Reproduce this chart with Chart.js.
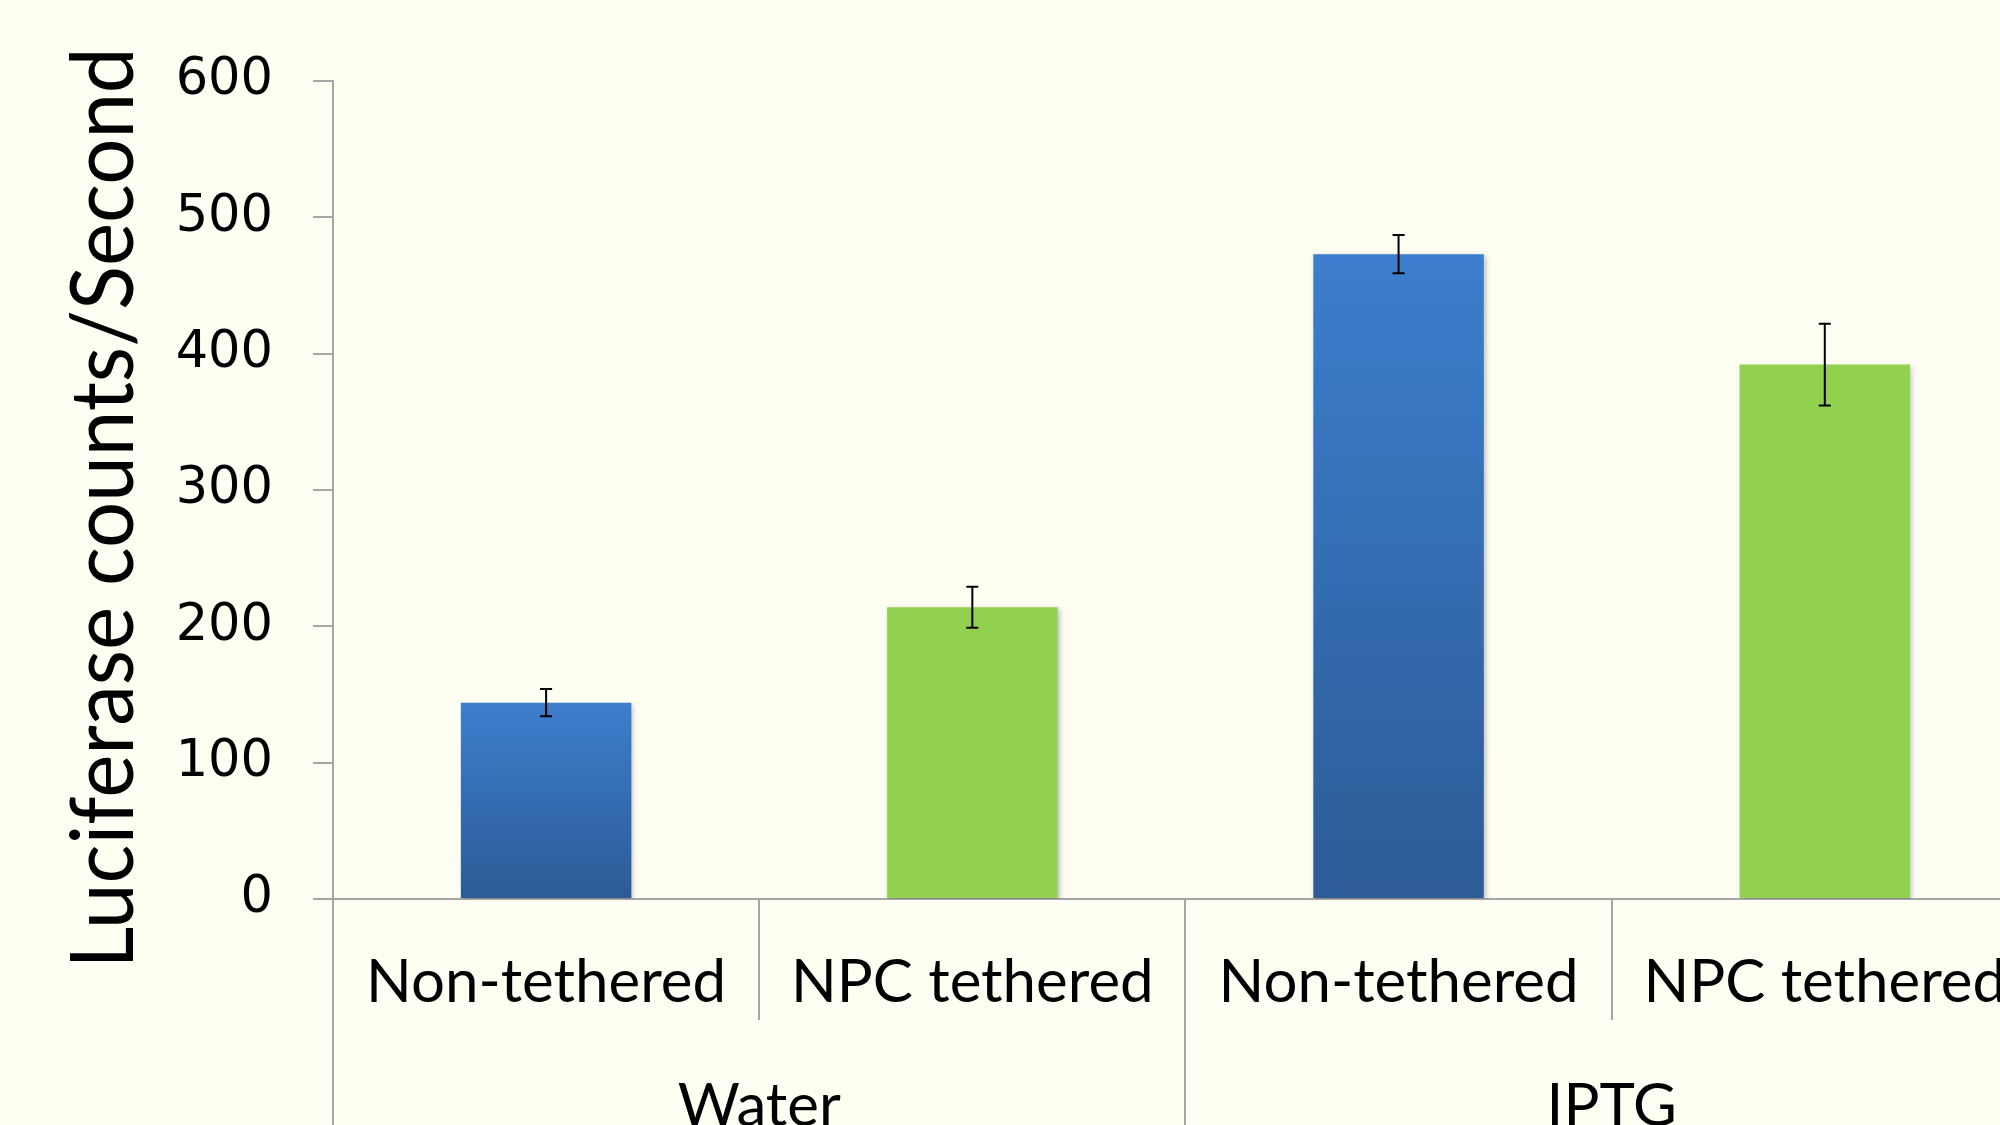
<!DOCTYPE html>
<html>
<head>
<meta charset="utf-8">
<script src="https://cdn.jsdelivr.net/npm/chart.js@4.4.1/dist/chart.umd.min.js"></script>
<style>
  html, body { margin: 0; padding: 0; background: #fefef3; overflow: hidden; }
  #grafico { position: absolute; left: 0; top: 0; }
</style>
</head>
<body>
<canvas id="grafico" width="2047" height="1125"></canvas>
<script>
// datos
const categorias = ['Non-tethered', 'NPC tethered', 'Non-tethered', 'NPC tethered'];
const grupos = ['Water', 'IPTG'];
const valores = [144, 214, 473, 392];
const errores = [10, 15, 14, 30];
const tipos = ['azul', 'verde', 'azul', 'verde'];
const ticksY = [0, 100, 200, 300, 400, 500, 600];

const GRIS = '#a6a6a6';

function colorBarra(context) {
    const i = context.dataIndex;
    if (tipos[i] === 'verde') return '#92d050';
    const chart = context.chart;
    const y = chart.scales && chart.scales.y;
    if (!chart.chartArea || !y) return '#3a74c0';
    const top = y.getPixelForValue(valores[i]);
    const bottom = y.getPixelForValue(0);
    const g = chart.ctx.createLinearGradient(0, top, 0, bottom);
    g.addColorStop(0, '#3c7ecd');
    g.addColorStop(1, '#2c5b96');
    return g;
}

const sombraBarras = {
    id: 'sombraBarras',
    beforeDatasetsDraw(chart) {
        const ctx = chart.ctx;
        ctx.save();
        ctx.shadowColor = 'rgba(0,0,0,0.25)';
        ctx.shadowBlur = 5;
        ctx.shadowOffsetX = 2;
        ctx.shadowOffsetY = 2;
    },
    afterDatasetsDraw(chart) {
        chart.ctx.restore();
    }
};

const barrasError = {
    id: 'barrasError',
    afterDatasetsDraw(chart) {
        const ctx = chart.ctx;
        const y = chart.scales.y;
        const meta = chart.getDatasetMeta(0);
        ctx.save();
        ctx.strokeStyle = '#000';
        ctx.lineWidth = 2;
        meta.data.forEach((barra, i) => {
            const x = barra.x;
            const alto = y.getPixelForValue(valores[i] + errores[i]);
            const bajo = y.getPixelForValue(valores[i] - errores[i]);
            ctx.beginPath();
            ctx.moveTo(x, alto); ctx.lineTo(x, bajo);
            ctx.moveTo(x - 6, alto); ctx.lineTo(x + 6, alto);
            ctx.moveTo(x - 6, bajo); ctx.lineTo(x + 6, bajo);
            ctx.stroke();
        });
        ctx.restore();
    }
};

const ejeAgrupado = {
    id: 'ejeAgrupado',
    afterDraw(chart) {
        const ctx = chart.ctx;
        const x = chart.scales.x;
        const base = chart.chartArea.bottom;
        const n = categorias.length;
        const paso = x.getPixelForValue(1) - x.getPixelForValue(0);
        ctx.save();
        ctx.strokeStyle = GRIS;
        ctx.lineWidth = 2;
        for (let i = 0; i <= n; i++) {
            const px = Math.round(x.getPixelForValue(i) - paso / 2);
            const fin = (i % 2 === 0) ? chart.height : base + 121;
            ctx.beginPath();
            ctx.moveTo(px, base);
            ctx.lineTo(px, fin);
            ctx.stroke();
        }
        ctx.fillStyle = '#000';
        ctx.font = '60px Lato';
        ctx.textAlign = 'center';
        ctx.textBaseline = 'alphabetic';
        grupos.forEach((g, k) => {
            const cx = (x.getPixelForValue(k * 2) + x.getPixelForValue(k * 2 + 1)) / 2;
            ctx.fillText(g, cx, 1126);
        });
        // titulo del eje y, estrechado para parecerse al original
        const titulo = 'Luciferase counts/Second';
        ctx.font = '88px Lato';
        const ancho = ctx.measureText(titulo).width;
        ctx.translate(133, 508);
        ctx.rotate(-Math.PI / 2);
        ctx.scale(921 / ancho, 1);
        ctx.fillText(titulo, 0, 0);
        ctx.restore();
    }
};

new Chart(document.getElementById('grafico'), {
    type: 'bar',
    data: {
        labels: categorias,
        datasets: [{
            data: valores,
            backgroundColor: colorBarra,
            borderWidth: 0,
            barPercentage: 0.4,
            categoryPercentage: 1
        }]
    },
    options: {
        responsive: false,
        animation: false,
        layout: { padding: { top: 81, right: 7, left: 0, bottom: 0 } },
        plugins: { legend: { display: false }, tooltip: { enabled: false } },
        scales: {
            x: {
                grid: { display: false },
                border: { display: true, color: GRIS, width: 2 },
                ticks: {
                    color: '#000',
                    font: { family: 'Lato', size: 60 },
                    padding: 40,
                    maxRotation: 0,
                    autoSkip: false
                },
                afterFit: s => { s.height = 226; }
            },
            y: {
                min: 0,
                max: 600,
                afterBuildTicks: s => { s.ticks = ticksY.map(v => ({ value: v })); },
                grid: { drawOnChartArea: false, color: GRIS, lineWidth: 2, tickLength: 20 },
                border: { display: true, color: GRIS, width: 2 },
                ticks: {
                    color: '#000',
                    font: { family: 'DejaVu Sans', size: 51 },
                    padding: 40
                },
                afterFit: s => { s.width = 333; }
            }
        }
    },
    plugins: [sombraBarras, barrasError, ejeAgrupado]
});
</script>
</body>
</html>
